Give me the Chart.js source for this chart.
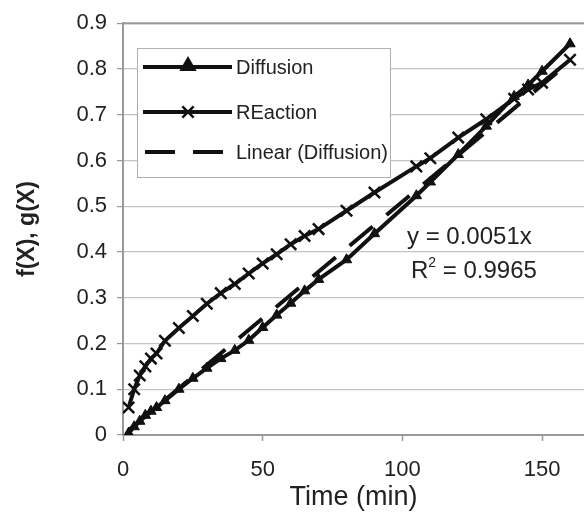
<!DOCTYPE html>
<html lang="en">
<head>
    <meta charset="utf-8" />
    <title>Diffusion vs Reaction</title>
    <style>
        html, body {
            margin: 0;
            padding: 0;
            background: #fff;
        }

        .chart-box {
            width: 584px;
            height: 518px;
        }
    </style>
</head>
<body>
    <div class="chart-box">
        <canvas id="myChart"></canvas>
    </div>

    <script src="https://cdn.jsdelivr.net/npm/chart.js@4.4.1/dist/chart.umd.min.js"></script>
    <script>
        // values
        var timeMin = [2, 4, 6, 8, 10, 12, 15, 20, 25, 30, 35, 40, 45, 50, 55, 60, 65, 70, 80, 90, 105, 110, 120, 130, 140, 145, 150, 160];
        var diffusion = [0.004, 0.018, 0.03, 0.043, 0.052, 0.06, 0.075, 0.1, 0.124, 0.146, 0.167, 0.185, 0.207, 0.235, 0.262, 0.288, 0.315, 0.34, 0.383, 0.44, 0.523, 0.553, 0.613, 0.675, 0.74, 0.765, 0.795, 0.855];
        var reaction = [0.06, 0.1, 0.13, 0.15, 0.167, 0.178, 0.206, 0.234, 0.26, 0.287, 0.31, 0.33, 0.353, 0.375, 0.395, 0.417, 0.435, 0.45, 0.49, 0.53, 0.587, 0.605, 0.65, 0.69, 0.735, 0.755, 0.77, 0.82];
        var trendTime = [2, 160];
        var trendValue = [0.0102, 0.816];
        var xTicks = [0, 50, 100, 150];
        var seriesNames = ["Diffusion", "REaction", "Linear (Diffusion)"];
        var fitText = ["y = 0.0051x", "R", "2", " = 0.9965"];

        var FONT = "'Liberation Sans', Arial, sans-serif";
        var INK = "#111";

        var toPoints = function (xs, ys) {
            return xs.map(function (x, i) { return { x: x, y: ys[i] }; });
        };

        // legend box + equation text, drawn on top like the excel chart
        var extras = {
            id: "extras",
            afterDraw: function (chart) {
                var ctx = chart.ctx;
                var area = chart.chartArea;
                ctx.save();

                // top frame line
                ctx.strokeStyle = "#999";
                ctx.lineWidth = 2;
                ctx.beginPath();
                ctx.moveTo(area.left, area.top);
                ctx.lineTo(area.right, area.top);
                ctx.stroke();

                // legend
                ctx.fillStyle = "#fff";
                ctx.fillRect(137, 48, 253, 129);
                ctx.strokeStyle = "#b0b0b0";
                ctx.lineWidth = 1;
                ctx.strokeRect(137.5, 48.5, 253, 129);

                var rows = [67, 112, 152];
                ctx.strokeStyle = INK;
                ctx.fillStyle = INK;
                ctx.lineWidth = 4;
                for (var i = 0; i < 2; i++) {
                    ctx.beginPath();
                    ctx.moveTo(143, rows[i]);
                    ctx.lineTo(232, rows[i]);
                    ctx.stroke();
                }
                Chart.helpers.drawPoint(ctx, { pointStyle: "triangle", radius: 6, borderWidth: 1 }, 188, rows[0] - 1);
                ctx.fill();
                ctx.lineWidth = 2.5;
                Chart.helpers.drawPoint(ctx, { pointStyle: "crossRot", radius: 8, borderWidth: 2.5 }, 188, rows[1]);

                ctx.lineWidth = 4;
                ctx.setLineDash([30, 18]);
                ctx.beginPath();
                ctx.moveTo(145, rows[2]);
                ctx.lineTo(232, rows[2]);
                ctx.stroke();
                ctx.setLineDash([]);

                ctx.fillStyle = "#222";
                ctx.font = "20px " + FONT;
                ctx.textBaseline = "middle";
                ctx.textAlign = "left";
                for (var j = 0; j < seriesNames.length; j++) {
                    ctx.fillText(seriesNames[j], 236, rows[j] + 1);
                }

                // fit equation
                ctx.font = "24px " + FONT;
                ctx.textBaseline = "alphabetic";
                ctx.fillText(fitText[0], 407, 244);
                var x0 = 411;
                ctx.fillText(fitText[1], x0, 278);
                var rw = ctx.measureText(fitText[1]).width;
                ctx.font = "14px " + FONT;
                ctx.fillText(fitText[2], x0 + rw, 267);
                var sw = ctx.measureText(fitText[2]).width;
                ctx.font = "24px " + FONT;
                ctx.fillText(fitText[3], x0 + rw + sw, 278);

                ctx.restore();
            }
        };

        var myChart = new Chart("myChart", {
            type: "line",
            data: {
                datasets: [{
                    label: seriesNames[0],
                    data: toPoints(timeMin, diffusion),
                    borderColor: INK,
                    backgroundColor: INK,
                    borderWidth: 4,
                    pointStyle: "triangle",
                    pointRadius: 6,
                    pointBorderWidth: 1,
                    tension: 0
                }, {
                    label: seriesNames[1],
                    data: toPoints(timeMin, reaction),
                    borderColor: INK,
                    backgroundColor: INK,
                    borderWidth: 4,
                    pointStyle: "crossRot",
                    pointRadius: 8,
                    pointBorderWidth: 2.5,
                    tension: 0
                }, {
                    label: seriesNames[2],
                    data: toPoints(trendTime, trendValue),
                    borderColor: INK,
                    borderWidth: 4,
                    borderDash: [30, 18],
                    pointRadius: 0,
                    tension: 0
                }]
            },
            options: {
                responsive: true,
                maintainAspectRatio: false,
                devicePixelRatio: 1,
                animation: false,
                layout: {
                    autoPadding: false,
                    padding: { top: 21, right: 0, left: 0, bottom: 0 }
                },
                plugins: {
                    legend: { display: false },
                    tooltip: { enabled: false }
                },
                scales: {
                    x: {
                        type: "linear",
                        min: 0,
                        max: 165,
                        afterBuildTicks: function (scale) {
                            scale.ticks = xTicks.map(function (v) { return { value: v }; });
                        },
                        afterFit: function (scale) { scale.height = 83; },
                        grid: {
                            drawOnChartArea: false,
                            drawTicks: true,
                            tickLength: 6,
                            tickColor: "#999",
                            tickWidth: 1.5
                        },
                        border: { color: "#999", width: 2 },
                        ticks: {
                            color: "#222",
                            padding: 16,
                            maxRotation: 0,
                            font: { family: FONT, size: 22 }
                        },
                        title: {
                            display: true,
                            text: "Time (min)",
                            color: "#222",
                            padding: { top: 0, bottom: 4 },
                            font: { family: FONT, size: 27 }
                        }
                    },
                    y: {
                        min: 0,
                        max: 0.9,
                        afterFit: function (scale) { scale.width = 123; },
                        grid: {
                            color: "#c4c4c4",
                            lineWidth: 1.2,
                            tickLength: 6,
                            tickColor: "#999"
                        },
                        border: { color: "#999", width: 2 },
                        ticks: {
                            stepSize: 0.1,
                            color: "#222",
                            padding: 10,
                            font: { family: FONT, size: 22 }
                        },
                        title: {
                            display: true,
                            text: "f(X), g(X)",
                            color: "#222",
                            padding: { top: 14, bottom: 0 },
                            font: { family: FONT, size: 23, weight: "bold" }
                        }
                    }
                }
            },
            plugins: [extras]
        });
    </script>
</body>
</html>
